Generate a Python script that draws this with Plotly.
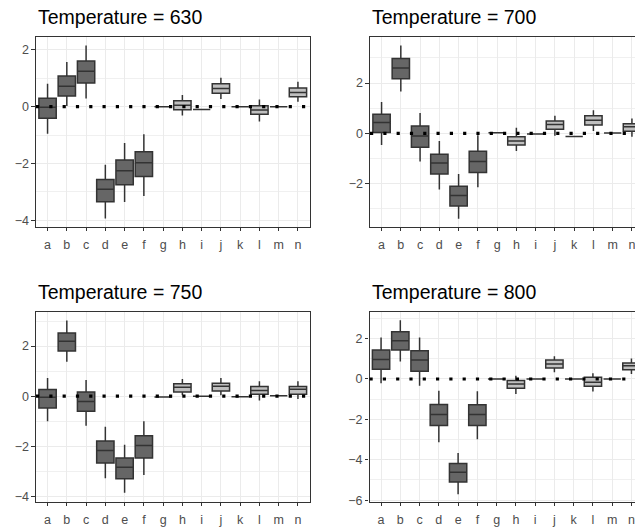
import plotly.graph_objects as go

# Factor levels shared by every panel
categories = list("abcdefghijklmn")
dark_levels = categories[:6]
light_levels = categories[6:]

temperatures = [630, 700, 750, 800]

# Five-number summaries per temperature, one value per category a..n
upper_630 = [0.81, 1.57, 2.16, -2.05, -1.28, -0.97, 0.0, 0.41, -0.10, 1.02, 0.0, 0.25, 0.0, 0.88]
q3_630 = [0.30, 1.08, 1.61, -2.57, -1.88, -1.59, 0.0, 0.21, -0.10, 0.81, 0.0, 0.03, 0.0, 0.66]
median_630 = [-0.02, 0.72, 1.25, -2.91, -2.26, -1.98, 0.0, 0.05, -0.10, 0.64, 0.0, -0.12, 0.0, 0.50]
q1_630 = [-0.41, 0.38, 0.83, -3.35, -2.75, -2.46, 0.0, -0.11, -0.10, 0.47, 0.0, -0.27, 0.0, 0.35]
lower_630 = [-0.95, 0.02, 0.29, -3.94, -3.36, -3.15, 0.0, -0.31, -0.10, 0.27, 0.0, -0.52, 0.0, 0.17]

upper_700 = [1.25, 3.50, 0.81, -0.30, -1.61, -0.07, 0.03, 0.22, -0.02, 0.70, -0.12, 0.92, 0.02, 0.59]
q3_700 = [0.76, 2.98, 0.29, -0.83, -2.10, -0.71, 0.03, -0.13, -0.02, 0.49, -0.12, 0.70, 0.02, 0.38]
median_700 = [0.43, 2.60, -0.10, -1.18, -2.47, -1.12, 0.03, -0.30, -0.02, 0.35, -0.12, 0.52, 0.02, 0.26]
q1_700 = [0.04, 2.17, -0.55, -1.61, -2.89, -1.55, 0.03, -0.46, -0.02, 0.17, -0.12, 0.33, 0.02, 0.09]
lower_700 = [-0.46, 1.67, -1.12, -2.23, -3.39, -2.14, 0.03, -0.70, -0.02, -0.09, -0.12, 0.10, 0.02, -0.13]

upper_750 = [0.72, 3.02, 0.64, -1.22, -1.94, -1.00, -0.03, 0.68, 0.0, 0.72, -0.02, 0.59, 0.01, 0.59]
q3_750 = [0.26, 2.52, 0.16, -1.79, -2.47, -1.58, -0.03, 0.49, 0.0, 0.51, -0.02, 0.38, 0.01, 0.38]
median_750 = [-0.04, 2.19, -0.21, -2.17, -2.84, -1.97, -0.03, 0.35, 0.0, 0.39, -0.02, 0.22, 0.01, 0.27]
q1_750 = [-0.47, 1.80, -0.60, -2.67, -3.30, -2.47, -0.03, 0.16, 0.0, 0.20, -0.02, 0.07, 0.01, 0.07]
lower_750 = [-1.00, 1.37, -1.18, -3.28, -3.86, -3.15, -0.03, 0.03, 0.0, 0.03, -0.02, -0.17, 0.01, -0.11]

upper_800 = [2.06, 2.91, 2.06, -0.58, -3.67, -0.61, 0.0, 0.16, 0.0, 1.12, 0.0, 0.28, 0.0, 1.02]
q3_800 = [1.43, 2.34, 1.40, -1.27, -4.19, -1.28, 0.0, -0.08, 0.0, 0.94, 0.0, 0.08, 0.0, 0.79]
median_800 = [0.97, 1.89, 0.94, -1.76, -4.62, -1.76, 0.0, -0.25, 0.0, 0.74, 0.0, -0.16, 0.0, 0.66]
q1_800 = [0.48, 1.43, 0.38, -2.30, -5.10, -2.30, 0.0, -0.46, 0.0, 0.54, 0.0, -0.36, 0.0, 0.46]
lower_800 = [-0.21, 0.87, -0.33, -3.13, -5.71, -2.99, 0.0, -0.74, 0.0, 0.33, 0.0, -0.62, 0.0, 0.25]

stats = {
    630: (lower_630, q1_630, median_630, q3_630, upper_630),
    700: (lower_700, q1_700, median_700, q3_700, upper_700),
    750: (lower_750, q1_750, median_750, q3_750, upper_750),
    800: (lower_800, q1_800, median_800, q3_800, upper_800),
}

W, H = 635, 530
FONT = "Liberation Sans, Arial, Helvetica, sans-serif"
DARK_FILL = "#666666"
LIGHT_FILL = "#BFBFBF"
OUTLINE = "#333333"
TICK_FONT = dict(size=12.5, color="#4D4D4D", family=FONT)

# Panel placement in pixels: (left, top, right, bottom); right column runs off the page edge
panels = {
    630: (36, 37, 309.5, 229.3),
    700: (370, 37, 635, 229.3),
    750: (36, 315.3, 309.5, 507.3),
    800: (369.5, 315.3, 635, 507.3),
}
y_ranges = {630: [-4.23, 2.47], 700: [-3.71, 3.85], 750: [-4.21, 3.37], 800: [-6.07, 3.33]}
CAT_PX = 273.5 / 14.2  # pixels per category step

fig = go.Figure()
layout = dict(
    width=W, height=H,
    margin=dict(l=0, r=0, t=0, b=0),
    paper_bgcolor="white", plot_bgcolor="white",
    showlegend=False, boxmode="overlay",
    font=dict(family=FONT),
)
shapes = []
annotations = []

for i, temp in enumerate(temperatures, start=1):
    lo, q1, med, q3, up = stats[temp]
    key = "" if i == 1 else str(i)
    xa, ya = "x" + key, "y" + key
    for levels, fill in ((dark_levels, DARK_FILL), (light_levels, LIGHT_FILL)):
        idx = [categories.index(c) for c in levels]
        fig.add_trace(go.Box(
            x=levels,
            lowerfence=[lo[k] for k in idx],
            q1=[q1[k] for k in idx],
            median=[med[k] for k in idx],
            q3=[q3[k] for k in idx],
            upperfence=[up[k] for k in idx],
            fillcolor=fill,
            line=dict(color=OUTLINE, width=1.5),
            whiskerwidth=0,
            width=0.9,
            boxpoints=False,
            hoverinfo="skip",
            xaxis=xa, yaxis=ya,
        ))

    left, top, right, bottom = panels[temp]
    x_hi = -0.6 + (right - left) / CAT_PX
    right_col = right >= W
    layout["xaxis" + key] = dict(
        domain=[left / W, right / W], anchor=ya,
        type="category", categoryorder="array", categoryarray=categories,
        range=[-0.6, x_hi],
        showgrid=True, gridcolor="#EBEBEB", gridwidth=1.1,
        ticks="outside", ticklen=3.5, tickwidth=1.1, tickcolor=OUTLINE,
        tickfont=TICK_FONT, ticklabelstandoff=3,
        showline=True, linecolor=OUTLINE, linewidth=1.1, mirror=True,
        zeroline=False, fixedrange=True,
    )
    layout["yaxis" + key] = dict(
        domain=[1 - bottom / H, 1 - top / H], anchor=xa,
        range=y_ranges[temp], dtick=2, tick0=0,
        showgrid=True, gridcolor="#EBEBEB", gridwidth=1.1,
        minor=dict(dtick=1, tick0=0, showgrid=True, gridcolor="#F0F0F0", gridwidth=0.7),
        ticks="outside", ticklen=3.5, tickwidth=1.1, tickcolor=OUTLINE,
        tickfont=TICK_FONT,
        showline=True, linecolor=OUTLINE, linewidth=1.1, mirror=not right_col,
        zeroline=False, fixedrange=True,
    )
    # dotted reference line at zero
    shapes.append(dict(type="line", xref=f"{xa} domain", yref=ya,
                       x0=0, x1=1, y0=0, y1=0, layer="above",
                       line=dict(color="black", width=3.2, dash="3.2px,10.1px")))
    # facet strip title
    annotations.append(dict(
        text=f"Temperature = {temp}", xref="paper", yref="paper",
        x=left / W, y=1 - (top - 19.5) / H, xanchor="left", yanchor="middle",
        showarrow=False, font=dict(size=19.5, color="black", family=FONT),
    ))

layout["shapes"] = shapes
layout["annotations"] = annotations
fig.update_layout(**layout)
fig.write_html("out.html")
